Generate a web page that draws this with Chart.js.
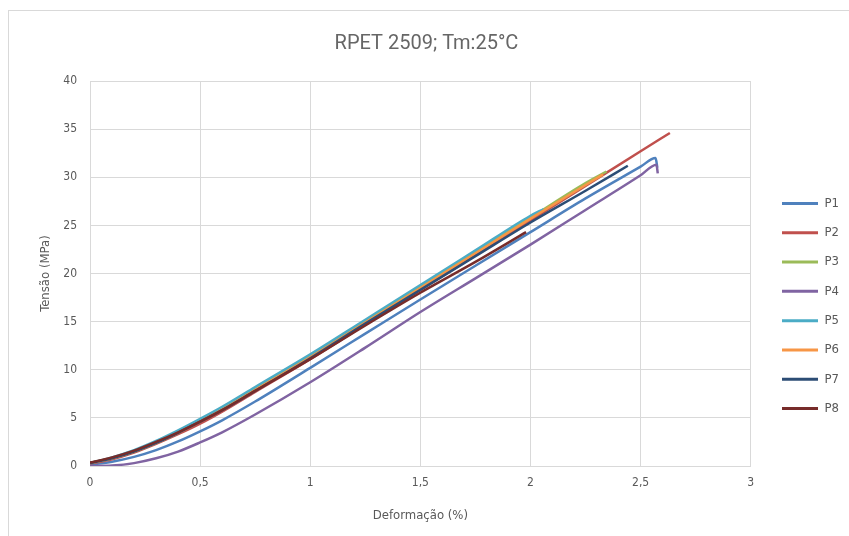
<!DOCTYPE html>
<html>
<head>
<meta charset="utf-8">
<script src="https://cdn.jsdelivr.net/npm/chart.js@4.4.1/dist/chart.umd.min.js"></script>
<style>
  html, body { margin: 0; padding: 0; background: #fff; }
  #wrap { position: relative; width: 849px; height: 536px; overflow: hidden; background: #fff; }
  #frame { position: absolute; left: 8px; top: 10px; width: 880px; height: 580px; border: 1px solid #d9d9d9; box-sizing: border-box; }
  canvas { position: absolute; left: 0; top: 0; }
</style>
</head>
<body>
<div id="wrap">
  <div id="frame"></div>
  <canvas id="chart" width="849" height="536"></canvas>
</div>
<script>
// Stress–strain curves, RPET 2509 at 25 °C
const chartTitle = 'RPET 2509; Tm:25°C';
const xTitle = 'Deformação (%)';
const yTitle = 'Tensão (MPa)';

const seriesNames  = ['P1', 'P2', 'P3', 'P4', 'P5', 'P6', 'P7', 'P8'];
const seriesColors = ['#4F81BD', '#C0504D', '#9BBB59', '#8064A2', '#4BACC6', '#F79646', '#2C4D75', '#772C2A'];

// strain (%) / stress (MPa) per specimen
const p1Strain = [0, 0.1, 0.2, 0.3, 0.4, 0.5, 0.6, 0.75, 1, 1.25, 1.5, 1.75, 2, 2.25, 2.5, 2.568, 2.576];
const p1Stress = [0.15, 0.45, 0.95, 1.65, 2.55, 3.6, 4.75, 6.7, 10.2, 13.75, 17.3, 20.8, 24.3, 27.8, 31.1, 32.0, 31.0];

const p2Strain = [0, 0.1, 0.2, 0.3, 0.4, 0.5, 0.6, 0.75, 1, 1.25, 1.5, 1.75, 2, 2.25, 2.5, 2.633];
const p2Stress = [0.25, 0.7, 1.4, 2.3, 3.3, 4.4, 5.65, 7.7, 11.1, 14.7, 18.3, 21.9, 25.5, 29.1, 32.7, 34.6];

const p3Strain = [0, 0.1, 0.2, 0.3, 0.4, 0.5, 0.6, 0.75, 1, 1.25, 1.5, 1.75, 2, 2.25, 2.345];
const p3Stress = [0.3, 0.8, 1.5, 2.4, 3.5, 4.7, 5.95, 8.0, 11.4, 15.0, 18.6, 22.2, 25.8, 29.4, 30.6];

const p4Strain = [0, 0.1, 0.2, 0.3, 0.4, 0.5, 0.6, 0.75, 1, 1.25, 1.5, 1.75, 2, 2.25, 2.5, 2.572, 2.578];
const p4Stress = [0.0, 0.05, 0.3, 0.8, 1.5, 2.45, 3.5, 5.35, 8.7, 12.3, 16.0, 19.5, 23.0, 26.6, 30.2, 31.3, 30.4];

const p5Strain = [0, 0.1, 0.2, 0.3, 0.4, 0.5, 0.6, 0.75, 1, 1.25, 1.5, 1.75, 2, 2.06];
const p5Stress = [0.3, 0.9, 1.65, 2.6, 3.7, 4.9, 6.15, 8.2, 11.6, 15.2, 18.8, 22.4, 26.0, 26.7];

const p6Strain = [0, 0.1, 0.2, 0.3, 0.4, 0.5, 0.6, 0.75, 1, 1.25, 1.5, 1.75, 2, 2.25, 2.33];
const p6Stress = [0.3, 0.8, 1.5, 2.4, 3.45, 4.6, 5.85, 7.9, 11.3, 14.9, 18.5, 22.1, 25.7, 29.2, 30.3];

const p7Strain = [0, 0.1, 0.2, 0.3, 0.4, 0.5, 0.6, 0.75, 1, 1.25, 1.5, 1.75, 2, 2.25, 2.442];
const p7Stress = [0.3, 0.8, 1.5, 2.4, 3.45, 4.6, 5.8, 7.8, 11.2, 14.8, 18.3, 21.8, 25.3, 28.6, 31.2];

const p8Strain = [0, 0.1, 0.2, 0.3, 0.4, 0.5, 0.6, 0.75, 1, 1.25, 1.5, 1.75, 1.98];
const p8Stress = [0.35, 0.9, 1.6, 2.5, 3.5, 4.6, 5.8, 7.8, 11.1, 14.6, 18.0, 21.2, 24.3];

const strainSets = [p1Strain, p2Strain, p3Strain, p4Strain, p5Strain, p6Strain, p7Strain, p8Strain];
const stressSets = [p1Stress, p2Stress, p3Stress, p4Stress, p5Stress, p6Stress, p7Stress, p8Stress];

const xTicks = [0, 0.5, 1, 1.5, 2, 2.5, 3];
const yTicks = [0, 5, 10, 15, 20, 25, 30, 35, 40];

const textColor = '#595959';
const gridColor = '#d9d9d9';
const narrow = '"Liberation Sans Narrow", "DejaVu Sans Condensed", "Roboto Condensed", Roboto, sans-serif';

const datasets = seriesNames.map((name, i) => ({
  label: name,
  data: strainSets[i].map((x, k) => ({ x: x, y: stressSets[i][k] })),
  borderColor: seriesColors[i],
  backgroundColor: seriesColors[i],
  borderWidth: 2.5,
  pointRadius: 0,
  pointHoverRadius: 0,
  showLine: true,
  fill: false,
  cubicInterpolationMode: 'monotone',
  order: seriesNames.length - i   // later specimens drawn on top
}));

// place the legend block beside the middle of the plot, a little off its right edge
const legendNudge = {
  id: 'legendNudge',
  afterLayout(chart) {
    const lg = chart.legend;
    if (lg) {
      lg.top += 38; lg.bottom += 38;
      lg.left += 15; lg.right += 15;
    }
  }
};

new Chart(document.getElementById('chart'), {
  type: 'scatter',
  data: { datasets },
  plugins: [legendNudge],
  options: {
    responsive: false,
    animation: false,
    layout: { padding: { left: 19, right: 15, top: 0, bottom: 0 } },
    plugins: {
      title: {
        display: true,
        text: chartTitle,
        color: '#666666',
        font: { family: 'Roboto, "Liberation Sans", sans-serif', size: 20, weight: 'normal' },
        padding: { top: 32, bottom: 25 }
      },
      legend: {
        position: 'right',
        align: 'center',
        labels: {
          boxWidth: 36,
          boxHeight: 3,
          padding: 16.3,
          color: textColor,
          font: { family: narrow, size: 13 },
          sort: (a, b) => a.datasetIndex - b.datasetIndex,
          generateLabels(chart) {
            return chart.data.datasets.map((ds, i) => ({
              text: ds.label,
              fillStyle: ds.borderColor,
              strokeStyle: ds.borderColor,
              lineWidth: 0,
              hidden: false,
              datasetIndex: i,
              fontColor: textColor
            }));
          }
        }
      },
      tooltip: { enabled: false }
    },
    scales: {
      x: {
        type: 'linear',
        min: 0,
        max: 3,
        afterBuildTicks: s => { s.ticks = xTicks.map(v => ({ value: v })); },
        afterFit: s => { s.height = 70; },
        ticks: {
          color: textColor,
          font: { family: narrow, size: 12 },
          padding: 10,
          callback: v => String(v).replace('.', ',')
        },
        grid: { color: gridColor, drawTicks: false, lineWidth: 1 },
        border: { color: gridColor },
        title: {
          display: true,
          text: xTitle,
          color: textColor,
          font: { family: narrow, size: 13 },
          padding: { top: 4, bottom: 13 }
        }
      },
      y: {
        type: 'linear',
        min: 0,
        max: 40,
        afterBuildTicks: s => { s.ticks = yTicks.map(v => ({ value: v })); },
        afterFit: s => { s.width = 71; },
        ticks: {
          color: textColor,
          font: { family: narrow, size: 12 },
          padding: 13
        },
        grid: { color: gridColor, drawTicks: false, lineWidth: 1 },
        border: { color: gridColor },
        title: {
          display: true,
          text: yTitle,
          color: textColor,
          font: { family: narrow, size: 13 },
          padding: { top: 19, bottom: 0 }
        }
      }
    }
  }
});
</script>
</body>
</html>
